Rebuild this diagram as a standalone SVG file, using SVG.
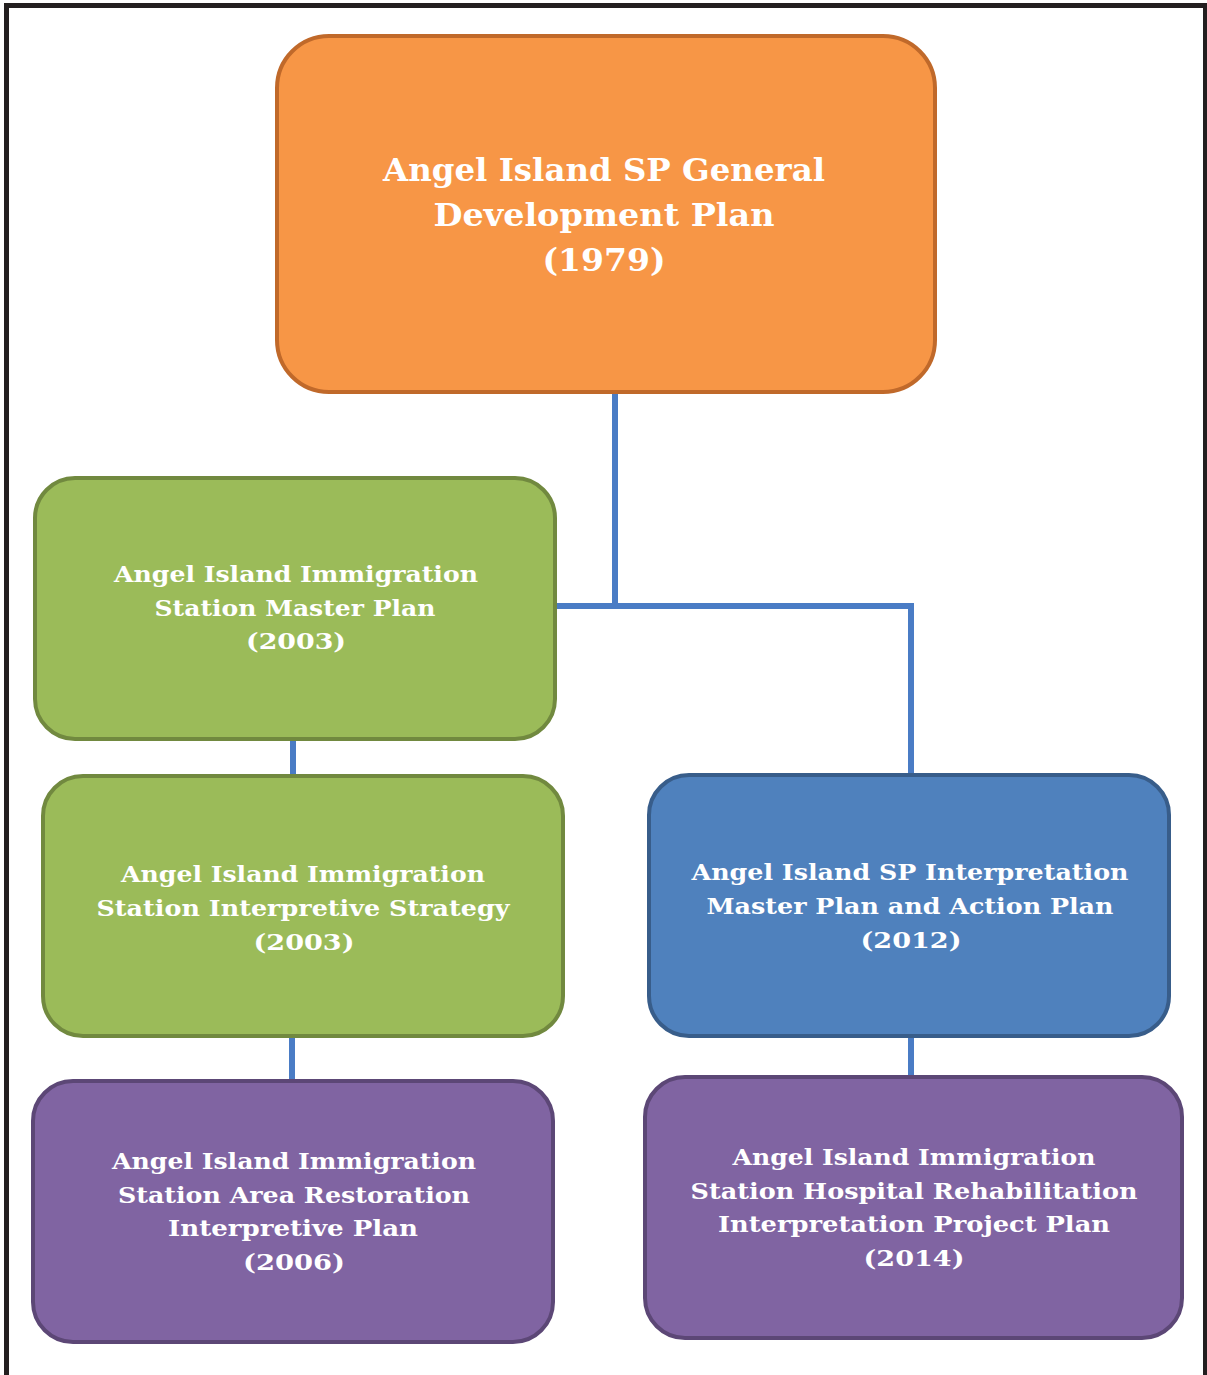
<svg xmlns="http://www.w3.org/2000/svg" width="1207" height="1375" viewBox="0 0 1207 1375">
<style>
.t{font-family:"DejaVu Serif","Liberation Serif",serif;font-weight:bold;fill:#ffffff;text-anchor:middle;font-size:22px}
.tb{font-size:31px}
.or{fill:#F79646;stroke:#C0692A;stroke-width:4}
.gr{fill:#9BBB59;stroke:#71893F;stroke-width:4}
.bl{fill:#4F81BD;stroke:#385D8A;stroke-width:4}
.pu{fill:#8064A2;stroke:#5C4776;stroke-width:4}
.c{stroke:#4A7CC5;stroke-width:6;fill:none}
</style>
<rect x="0" y="0" width="1207" height="1375" fill="#ffffff"/>
<path d="M6.5 1375 V5.5 H1205.5 V1375" fill="none" stroke="#231F20" stroke-width="5"/>
<g id="connectors">
<path class="c" d="M615 392 V606"/>
<path class="c" d="M555 606 H911 V775"/>
<path class="c" d="M293 739 V776"/>
<path class="c" d="M292 1036 V1081"/>
<path class="c" d="M911 1036 V1077"/>
</g>
<g id="n1979">
<rect class="or" x="277" y="36" width="658" height="356" rx="52"/>
<text class="t tb" x="604" y="181" textLength="442" lengthAdjust="spacingAndGlyphs">Angel Island SP General</text>
<text class="t tb" x="604" y="226" textLength="341" lengthAdjust="spacingAndGlyphs">Development Plan</text>
<text class="t tb" x="604" y="271" textLength="123" lengthAdjust="spacingAndGlyphs">(1979)</text>
</g>
<g id="n2003a">
<rect class="gr" x="35" y="478" width="520" height="261" rx="40"/>
<text class="t" x="296" y="582" textLength="364" lengthAdjust="spacingAndGlyphs">Angel Island Immigration</text>
<text class="t" x="295" y="616" textLength="281" lengthAdjust="spacingAndGlyphs">Station Master Plan</text>
<text class="t" x="296" y="649" textLength="100" lengthAdjust="spacingAndGlyphs">(2003)</text>
</g>
<g id="n2003b">
<rect class="gr" x="43" y="776" width="520" height="260" rx="40"/>
<text class="t" x="303" y="882" textLength="364" lengthAdjust="spacingAndGlyphs">Angel Island Immigration</text>
<text class="t" x="303" y="916" textLength="413" lengthAdjust="spacingAndGlyphs">Station Interpretive Strategy</text>
<text class="t" x="304" y="950" textLength="101" lengthAdjust="spacingAndGlyphs">(2003)</text>
</g>
<g id="n2012">
<rect class="bl" x="649" y="775" width="520" height="261" rx="40"/>
<text class="t" x="910" y="880" textLength="437" lengthAdjust="spacingAndGlyphs">Angel Island SP Interpretation</text>
<text class="t" x="910" y="914" textLength="407" lengthAdjust="spacingAndGlyphs">Master Plan and Action Plan</text>
<text class="t" x="911" y="948" textLength="101" lengthAdjust="spacingAndGlyphs">(2012)</text>
</g>
<g id="n2006">
<rect class="pu" x="33" y="1081" width="520" height="261" rx="40"/>
<text class="t" x="294" y="1169" textLength="364" lengthAdjust="spacingAndGlyphs">Angel Island Immigration</text>
<text class="t" x="294" y="1203" textLength="352" lengthAdjust="spacingAndGlyphs">Station Area Restoration</text>
<text class="t" x="293" y="1236" textLength="250" lengthAdjust="spacingAndGlyphs">Interpretive Plan</text>
<text class="t" x="294" y="1270" textLength="102" lengthAdjust="spacingAndGlyphs">(2006)</text>
</g>
<g id="n2014">
<rect class="pu" x="645" y="1077" width="537" height="261" rx="40"/>
<text class="t" x="914" y="1165" textLength="363" lengthAdjust="spacingAndGlyphs">Angel Island Immigration</text>
<text class="t" x="914" y="1199" textLength="447" lengthAdjust="spacingAndGlyphs">Station Hospital Rehabilitation</text>
<text class="t" x="914" y="1232" textLength="392" lengthAdjust="spacingAndGlyphs">Interpretation Project Plan</text>
<text class="t" x="914" y="1266" textLength="101" lengthAdjust="spacingAndGlyphs">(2014)</text>
</g>
</svg>
